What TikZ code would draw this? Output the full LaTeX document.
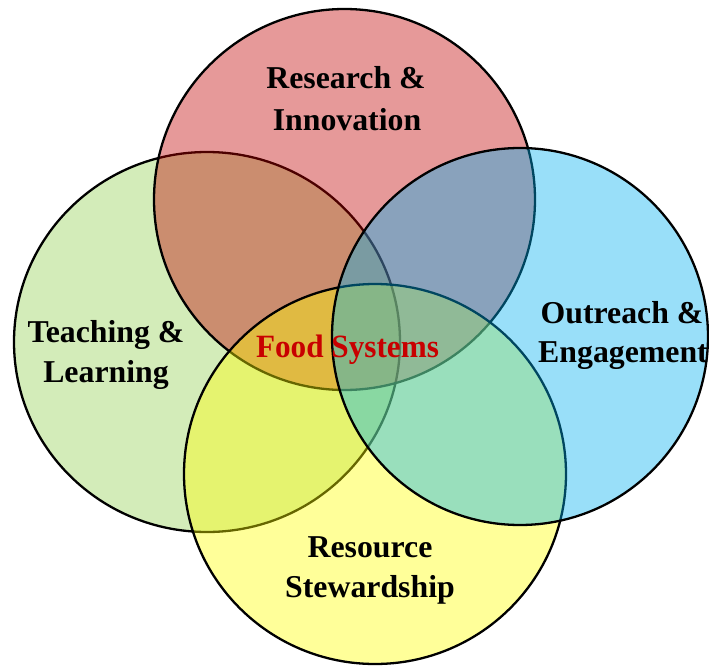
\documentclass[tikz,border=0pt]{standalone}
\usepackage{fontspec}
\setmainfont{Liberation Serif}
\definecolor{cgreen}{RGB}{146,208,80}
\definecolor{cred}{RGB}{192,0,0}
\definecolor{cyellow}{RGB}{255,255,0}
\definecolor{cblue}{RGB}{0,176,240}
\definecolor{ctitle}{RGB}{200,0,0}
\tikzset{
  venn/.style={draw=black, line width=2.3pt, fill opacity=0.4},
  lbl/.style={anchor=base, inner sep=0pt, font=\fontsize{31.8}{40}\selectfont\bfseries},
  title/.style={anchor=base, inner sep=0pt, text=ctitle, font=\fontsize{32.5}{40}\selectfont\bfseries}
}
\begin{document}
\begin{tikzpicture}[x=1pt,y=-1pt]
\useasboundingbox (0,0) rectangle (709,666);
% circles (order: green, red, yellow, blue)
\draw[venn, fill=cgreen]  (207,342) ellipse [x radius=193, y radius=190];
\draw[venn, fill=cred]    (344.5,199.5) ellipse [x radius=190.5, y radius=190.5];
\draw[venn, fill=cyellow] (375,474) ellipse [x radius=191, y radius=190];
\draw[venn, fill=cblue]   (520,336.5) ellipse [x radius=188, y radius=188.5];
% labels
\node[lbl] (res1) at (346,89) {Research \&};
\node[lbl] (res2) at (347,131) {Innovation};
\node[lbl] (tea1) at (106,342) {Teaching \&};
\node[lbl] (tea2) at (106,382) {Learning};
\node[lbl] (out1) at (622,323) {Outreach \&};
\node[lbl] (out2) at (623,362) {Engagement};
\node[lbl] (stw1) at (370,557) {Resource};
\node[lbl] (stw2) at (370,597) {Stewardship};
\node[title, xscale=0.96] (food) at (347.5,357) {Food Systems};
\end{tikzpicture}
\end{document}
